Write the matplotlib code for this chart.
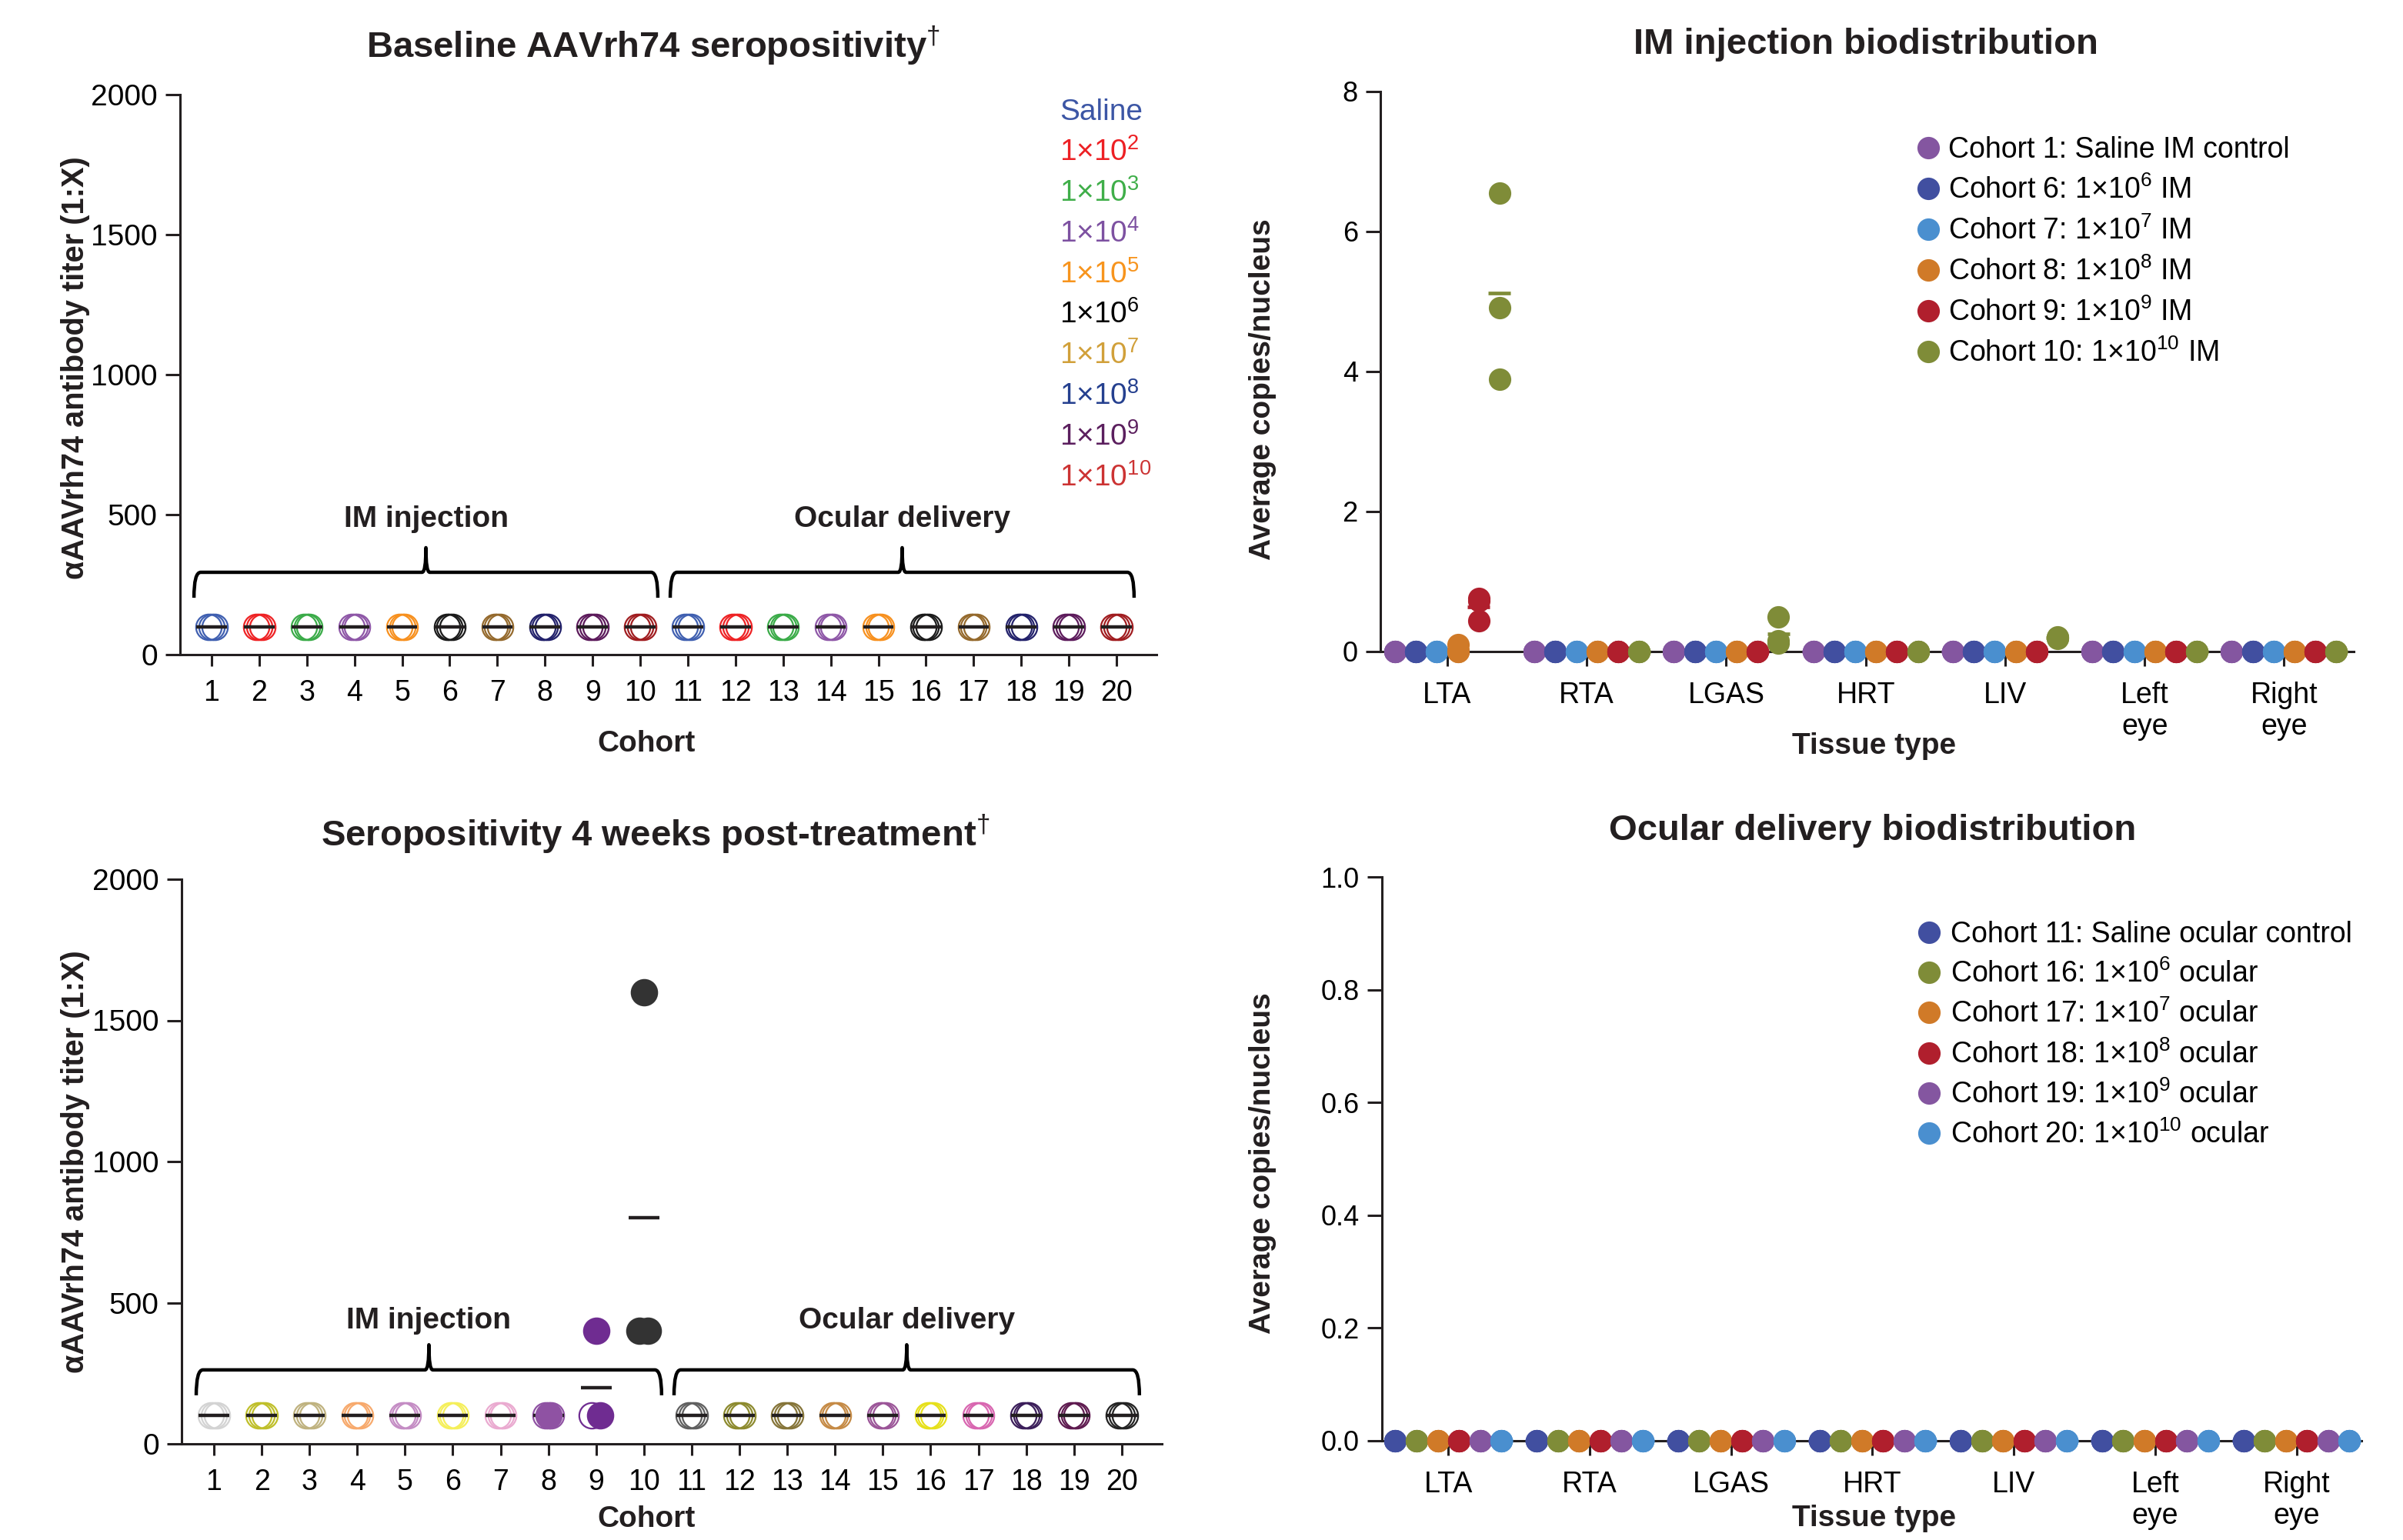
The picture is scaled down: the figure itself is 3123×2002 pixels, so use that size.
import numpy as np
import matplotlib
matplotlib.use('Agg')
import matplotlib.pyplot as plt
from matplotlib.path import Path
from matplotlib.patches import PathPatch

plt.rcParams['font.family'] = ['Liberation Sans', 'DejaVu Sans']
plt.rcParams['mathtext.fontset'] = 'custom'
plt.rcParams['mathtext.rm'] = 'Liberation Sans'
plt.rcParams['mathtext.it'] = 'Liberation Sans:italic'
plt.rcParams['mathtext.bf'] = 'Liberation Sans:bold'

# ---------------- data ----------------
cohorts = list(range(1, 21))
groups = [('IM injection', 1, 10), ('Ocular delivery', 11, 20)]

dose_labels = ['Saline', '1×10$^{\\mathrm{2}}$', '1×10$^{\\mathrm{3}}$', '1×10$^{\\mathrm{4}}$',
               '1×10$^{\\mathrm{5}}$', '1×10$^{\\mathrm{6}}$', '1×10$^{\\mathrm{7}}$',
               '1×10$^{\\mathrm{8}}$', '1×10$^{\\mathrm{9}}$', '1×10$^{\\mathrm{10}}$']
dose_text_colors = ['#3c56a5', '#ed2024', '#3fae49', '#7d51a1', '#f7941d',
                    '#000000', '#d1a03a', '#25408f', '#5b1f5e', '#cc3333']
baseline_colors = ['#3f5fb0', '#ee2224', '#3aab48', '#8e57a7', '#f7901e',
                   '#1a1a1a', '#94692c', '#22216b', '#5c1a5b', '#a01c1f',
                   '#3f5fb0', '#ee2224', '#3aab48', '#8e57a7', '#f7901e',
                   '#1a1a1a', '#94692c', '#22216b', '#5c1a5b', '#a01c1f']

# titer (1:X) per cohort, 3 animals each
baseline_titer = [[100, 100, 100], [100, 100, 100], [100, 100, 100], [100, 100, 100],
                  [100, 100, 100], [100, 100, 100], [100, 100, 100], [100, 100, 100],
                  [100, 100, 100], [100, 100, 100], [100, 100, 100], [100, 100, 100],
                  [100, 100, 100], [100, 100, 100], [100, 100, 100], [100, 100, 100],
                  [100, 100, 100], [100, 100, 100], [100, 100, 100], [100, 100, 100]]

post_titer = [[100, 100, 100], [100, 100, 100], [100, 100, 100], [100, 100, 100],
              [100, 100, 100], [100, 100, 100], [100, 100, 100], [100, 100, 100],
              [100, 100, 400], [1600, 400, 400], [100, 100, 100], [100, 100, 100],
              [100, 100, 100], [100, 100, 100], [100, 100, 100], [100, 100, 100],
              [100, 100, 100], [100, 100, 100], [100, 100, 100], [100, 100, 100]]
post_filled = [[False] * 3] * 7 + [[False, True, False], [False, True, True],
                                   [True, True, True]] + [[False] * 3] * 10
post_colors = ['#d3d3d3', '#bfbf2a', '#bfb27f', '#f7a96c', '#c48cc4',
               '#f5ef5a', '#eaaad0', '#8f52a3', '#6f2c91', '#333333',
               '#5f5f5f', '#8c8a2e', '#857438', '#c58a45', '#9b5598',
               '#e6e01b', '#d866b0', '#3b1e5a', '#5e1a4f', '#222222']

tissues = ['LTA', 'RTA', 'LGAS', 'HRT', 'LIV', 'Left\neye', 'Right\neye']

# average copies/nucleus, per tissue (order as tissues), 3 animals each
im_cohort1 = [[0, 0, 0], [0, 0, 0], [0, 0, 0], [0, 0, 0], [0, 0, 0], [0, 0, 0], [0, 0, 0]]
im_cohort6 = [[0, 0, 0], [0, 0, 0], [0, 0, 0], [0, 0, 0], [0, 0, 0], [0, 0, 0], [0, 0, 0]]
im_cohort7 = [[0, 0, 0], [0, 0, 0], [0, 0, 0], [0, 0, 0], [0, 0, 0], [0, 0, 0], [0, 0, 0]]
im_cohort8 = [[0.1, 0, 0], [0, 0, 0], [0, 0, 0], [0, 0, 0], [0, 0, 0], [0, 0, 0], [0, 0, 0]]
im_cohort9 = [[0.76, 0.72, 0.44], [0, 0, 0], [0, 0, 0], [0, 0, 0], [0, 0, 0], [0, 0, 0], [0, 0, 0]]
im_cohort10 = [[6.55, 4.91, 3.89], [0, 0, 0], [0.49, 0.15, 0.12], [0, 0, 0],
               [0.21, 0.2, 0.19], [0, 0, 0], [0, 0, 0]]
im_labels = ['Cohort 1: Saline IM control', 'Cohort 6: 1×10$^{\\mathrm{6}}$ IM',
             'Cohort 7: 1×10$^{\\mathrm{7}}$ IM', 'Cohort 8: 1×10$^{\\mathrm{8}}$ IM',
             'Cohort 9: 1×10$^{\\mathrm{9}}$ IM', 'Cohort 10: 1×10$^{\\mathrm{10}}$ IM']
im_colors = ['#8456a0', '#414fa0', '#4a8fcf', '#d07a28', '#b01f2d', '#7f8c38']
im_copies = [im_cohort1, im_cohort6, im_cohort7, im_cohort8, im_cohort9, im_cohort10]

oc_cohort11 = [[0, 0, 0], [0, 0, 0], [0, 0, 0], [0, 0, 0], [0, 0, 0], [0, 0, 0], [0, 0, 0]]
oc_cohort16 = [[0, 0, 0], [0, 0, 0], [0, 0, 0], [0, 0, 0], [0, 0, 0], [0, 0, 0], [0, 0, 0]]
oc_cohort17 = [[0, 0, 0], [0, 0, 0], [0, 0, 0], [0, 0, 0], [0, 0, 0], [0, 0, 0], [0, 0, 0]]
oc_cohort18 = [[0, 0, 0], [0, 0, 0], [0, 0, 0], [0, 0, 0], [0, 0, 0], [0, 0, 0], [0, 0, 0]]
oc_cohort19 = [[0, 0, 0], [0, 0, 0], [0, 0, 0], [0, 0, 0], [0, 0, 0], [0, 0, 0], [0, 0, 0]]
oc_cohort20 = [[0, 0, 0], [0, 0, 0], [0, 0, 0], [0, 0, 0], [0, 0, 0], [0, 0, 0], [0, 0, 0]]
oc_labels = ['Cohort 11: Saline ocular control', 'Cohort 16: 1×10$^{\\mathrm{6}}$ ocular',
             'Cohort 17: 1×10$^{\\mathrm{7}}$ ocular', 'Cohort 18: 1×10$^{\\mathrm{8}}$ ocular',
             'Cohort 19: 1×10$^{\\mathrm{9}}$ ocular', 'Cohort 20: 1×10$^{\\mathrm{10}}$ ocular']
oc_colors = ['#414fa0', '#7f8c38', '#d07a28', '#b01f2d', '#8456a0', '#4a8fcf']
oc_copies = [oc_cohort11, oc_cohort16, oc_cohort17, oc_cohort18, oc_cohort19, oc_cohort20]

# ---------------- layout ----------------
W, H, DPI = 3123, 2002, 200
INK = '#231f20'
fig = plt.figure(figsize=(W / DPI, H / DPI), dpi=DPI)


def axes_px(l, t, r, b):
    return fig.add_axes([l / W, 1 - b / H, (r - l) / W, (b - t) / H])


def fxy(x, y):
    return x / W, 1 - y / H


def style(ax, xlab, ylab, xlen, xpad):
    for s in ['top', 'right']:
        ax.spines[s].set_visible(False)
    for s in ['left', 'bottom']:
        ax.spines[s].set_linewidth(1.1)
        ax.spines[s].set_color(INK)
    ax.tick_params(axis='x', direction='out', length=xlen, width=1.1, pad=xpad,
                   labelsize=xlab, color=INK)
    ax.tick_params(axis='y', direction='out', length=7, width=1.1, pad=3.5,
                   labelsize=ylab, color=INK)


def swarm(values):
    spread = {1: 0.0, 2: 0.18, 3: 0.06}
    offs = np.zeros(len(values))
    for v in set(values):
        idx = [i for i, x in enumerate(values) if x == v]
        n = len(idx)
        offs[idx] = (np.arange(n) - (n - 1) / 2) * spread.get(n, 0.06)
    return offs


def brace(ax, x0, x1, y_low, y_top, y_tip, label, y_text):
    xm = (x0 + x1) / 2
    r, rt = 0.14, 0.08
    verts = [(x0, y_low), (x0, y_top), (x0 + r, y_top),
             (xm - rt, y_top), (xm, y_top), (xm, y_tip),
             (xm, y_top), (xm + rt, y_top),
             (x1 - r, y_top), (x1, y_top), (x1, y_low)]
    codes = [Path.MOVETO, Path.CURVE3, Path.CURVE3,
             Path.LINETO, Path.CURVE3, Path.CURVE3,
             Path.CURVE3, Path.CURVE3,
             Path.LINETO, Path.CURVE3, Path.CURVE3]
    ax.add_patch(PathPatch(Path(verts, codes), fill=False, lw=1.6, ec='black',
                           capstyle='butt', joinstyle='round', clip_on=False))
    ax.text(xm, y_text, label, ha='center', va='center', fontsize=14,
            fontweight='bold', color=INK)


def titer_panel(ax, titers, colors, filled, brace_y):
    for i, c in enumerate(cohorts):
        vals = titers[i]
        offs = swarm(vals)
        for k, v in enumerate(vals):
            if filled[i][k]:
                ax.plot(c + offs[k], v, 'o', ms=12, mfc=colors[i], mec=colors[i], mew=0.8,
                        zorder=5, clip_on=False)
            else:
                ax.plot(c + offs[k], v, 'o', ms=12, mfc='none', mec=colors[i], mew=0.8,
                        zorder=3, clip_on=False)
        m = np.mean(vals)
        ax.plot([c - 0.32, c + 0.32], [m, m], color=INK, lw=1.6, zorder=4,
                solid_capstyle='butt')
    for label, g0, g1 in groups:
        brace(ax, g0 - 0.37, g1 + 0.37, *brace_y[:3], label, brace_y[3])
    ax.set_ylim(0, 2000)
    ax.set_yticks([0, 500, 1000, 1500, 2000])
    ax.set_xticks(cohorts)
    style(ax, 13.5, 14, 5.5, 6)


def copies_panel(ax, copies, colors, ymax, yticks, yfmt):
    n = len(copies)
    pos = np.arange(len(tissues))
    for j, (per_tissue, col) in enumerate(zip(copies, colors)):
        x = pos + (j - (n - 1) / 2) * 0.15
        for t in range(len(tissues)):
            vals = per_tissue[t]
            m = np.mean(vals)
            ax.plot([x[t] - 0.08, x[t] + 0.08], [m, m], color=col, lw=1.7,
                    solid_capstyle='butt', zorder=3, clip_on=False)
            ax.plot([x[t]] * len(vals), vals, 'o', ms=10.5, color=col, mew=0,
                    zorder=4, clip_on=False)
    ax.set_xticks(pos)
    ax.set_xticklabels(tissues)
    ax.set_ylim(0, ymax)
    ax.set_yticks(yticks)
    ax.set_yticklabels([yfmt.format(v) for v in yticks])
    style(ax, 13.5, 13, 7, 7)


def dot_legend(labels, colors, x_marker, x_text, y0, step):
    for k, (lab, col) in enumerate(zip(labels, colors)):
        yc = y0 + k * step
        fig.lines.append(plt.Line2D([x_marker / W], [1 - yc / H], marker='o', ms=10.5,
                                    color=col, mew=0, ls='', transform=fig.transFigure))
        fig.text(*fxy(x_text, yc + 13), lab, fontsize=13.5, va='baseline', ha='left',
                 color='black')


# top-left: baseline seropositivity
ax1 = axes_px(234, 123, 1503, 851)
titer_panel(ax1, baseline_titer, baseline_colors,
            [[False] * 3] * 20, (203, 294, 382, 484))
ax1.set_xlim(0.338, 20.84)
for k, (lab, col) in enumerate(zip(dose_labels, dose_text_colors)):
    ax1.text(0.901, 0.955 - k * 0.0727, lab, color=col, fontsize=14,
             transform=ax1.transAxes, ha='left', va='baseline')

# bottom-left: 4 weeks post-treatment
ax2 = axes_px(236, 1143, 1510, 1877)
titer_panel(ax2, post_titer, post_colors, post_filled, (172, 262, 351, 436))
ax2.set_xlim(0.324, 20.84)

# top-right: IM biodistribution
ax3 = axes_px(1794, 119, 3059, 847)
copies_panel(ax3, im_copies, im_colors, 8, [0, 2, 4, 6, 8], '{:d}')
ax3.set_xlim(-0.48, 6.5)
dot_legend(im_labels, im_colors, 2506, 2532, 192, 53)

# bottom-right: ocular biodistribution
ax4 = axes_px(1796, 1140, 3069, 1873)
copies_panel(ax4, oc_copies, oc_colors, 1.0, [0, 0.2, 0.4, 0.6, 0.8, 1.0], '{:.1f}')
ax4.set_xlim(-0.47, 6.46)
dot_legend(oc_labels, oc_colors, 2507, 2535, 1212, 52.2)

# titles and axis labels
bold = dict(fontweight='bold', color=INK)
fig.text(*fxy(849, 75), 'Baseline AAVrh74 seropositivity$^{\\mathrm{†}}$', fontsize=17,
         ha='center', va='baseline', **bold)
fig.text(*fxy(2425, 70), 'IM injection biodistribution', fontsize=17,
         ha='center', va='baseline', **bold)
fig.text(*fxy(852, 1100), 'Seropositivity 4 weeks post-treatment$^{\\mathrm{†}}$', fontsize=17,
         ha='center', va='baseline', **bold)
fig.text(*fxy(2434, 1092), 'Ocular delivery biodistribution', fontsize=17,
         ha='center', va='baseline', **bold)

for yc in (478, 1510):
    fig.text(*fxy(98, yc), 'αAAVrh74 antibody titer (1:X)', fontsize=14.3, rotation=90,
             ha='center', va='center', **bold)
for yc in (506, 1512):
    fig.text(*fxy(1641, yc), 'Average copies/nucleus', fontsize=14, rotation=90,
             ha='center', va='center', **bold)
for yc, yt in ((967, 970), (1975, 1974)):
    fig.text(*fxy(840, yc), 'Cohort', fontsize=14, ha='center', va='center', **bold)
    fig.text(*fxy(2436, yt), 'Tissue type', fontsize=14, ha='center', va='center', **bold)

fig.savefig('out.png', dpi=DPI)
